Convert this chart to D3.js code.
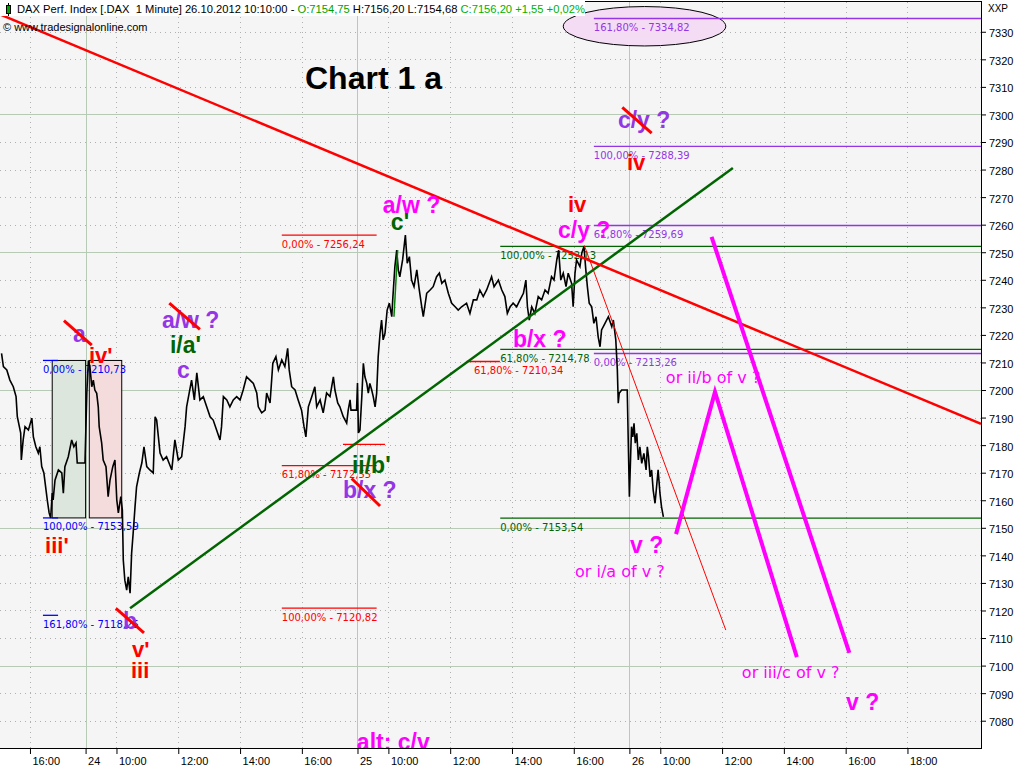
<!DOCTYPE html>
<html><head><meta charset="utf-8">
<script src="https://cdn.jsdelivr.net/npm/d3@7/dist/d3.min.js"></script>
<style>html,body{margin:0;padding:0;background:#fff;overflow:hidden}svg{display:block}</style>
</head><body><svg id="chart" width="1024" height="768"></svg>
<script>
// ---------- DATA ----------
// time unit: trading hours since the 23.10.2012 09:00 open; each session on the chart spans 8.8 h
const SESSION_HOURS = 8.8;
const tickDay   = [23,24,24,24,24,24,25,25,25,25,25,26,26,26,26,26,26];
const tickHour  = [16,9,10,12,14,16,9,10,12,14,16,9,10,12,14,16,18];
const tickLabels= ["16:00","24","10:00","12:00","14:00","16:00","25","10:00","12:00","14:00","16:00","26","10:00","12:00","14:00","16:00","18:00"];
const priceTicks = d3.range(7080, 7331, 10);

// DAX 1-minute close path
const priceT = [
6.08,6.14,6.25,6.35,6.46,6.55,6.59,6.70,6.72,6.78,
6.84,6.95,7.06,7.11,7.19,7.27,7.32,7.38,7.45,7.52,
7.56,7.62,7.67,7.72,7.75,7.81,7.92,8.03,8.08,8.13,
8.24,8.35,8.42,8.49,8.53,8.78,8.84,8.89,8.94,9.00,
9.05,9.10,9.16,9.21,9.24,9.32,9.37,9.46,9.53,9.59,
9.68,9.75,9.81,9.86,9.94,9.99,10.02,10.07,10.13,10.18,
10.24,10.29,10.34,10.40,10.45,10.54,10.62,10.69,10.78,10.88,
10.99,11.05,11.10,11.21,11.31,11.42,11.59,11.69,11.80,11.91,
12.02,12.07,12.23,12.32,12.40,12.50,12.61,12.72,12.83,12.93,
13.04,13.15,13.20,13.26,13.37,13.47,13.58,13.69,13.80,13.90,
14.01,14.12,14.23,14.34,14.39,14.50,14.61,14.66,14.77,14.86,
14.96,15.04,15.15,15.25,15.34,15.39,15.47,15.58,15.68,15.79,
15.87,15.93,16.01,16.12,16.22,16.28,16.39,16.49,16.60,16.71,
16.82,16.87,16.96,17.03,17.14,17.25,17.30,17.36,17.39,17.57,
17.60,17.63,17.68,17.74,17.79,17.84,17.90,17.95,18.00,18.06,
18.11,18.17,18.22,18.27,18.33,18.38,18.43,18.49,18.56,18.63,
18.71,18.74,18.81,18.87,18.92,18.97,19.06,19.15,19.21,19.28,
19.35,19.43,19.52,19.60,19.68,19.73,19.84,19.95,20.05,20.16,
20.25,20.33,20.43,20.54,20.65,20.76,20.86,20.97,21.13,21.24,
21.35,21.46,21.56,21.67,21.78,21.94,22.02,22.16,22.27,22.37,
22.45,22.54,22.64,22.75,22.86,22.97,23.05,23.10,23.16,23.24,
23.34,23.45,23.56,23.67,23.77,23.88,23.96,24.05,24.11,24.18,
24.26,24.35,24.42,24.53,24.58,24.64,24.69,24.80,24.86,24.93,
24.99,25.04,25.10,25.18,25.25,25.32,25.39,25.45,25.50,25.61,
25.72,25.83,25.88,25.96,26.01,26.04,26.07,26.15,26.33,26.40,
26.42,26.44,26.47,26.51,26.55,26.59,26.64,26.69,26.74,26.80,
26.87,26.94,26.98,27.02,27.07,27.12,27.17,27.23,27.28,27.33,
27.39,27.44,27.50];
const priceV = [
7213.3,7208.5,7207.3,7203.6,7201.2,7197.6,7190.3,7184.4,7174.6,7181.9,
7186.7,7185.5,7189.8,7183.0,7179.4,7177.1,7179.4,7172.2,7169.9,7163.7,
7160.1,7155.4,7153.6,7162.6,7160.1,7167.3,7171.0,7169.9,7162.6,7172.2,
7175.8,7181.9,7179.4,7180.8,7173.5,7173.5,7198.9,7210.7,7208.5,7201.2,
7203.6,7200.0,7198.8,7193.9,7186.7,7180.8,7174.6,7172.2,7161.3,7167.3,
7172.2,7174.6,7160.1,7155.4,7161.3,7156.4,7138.3,7131.0,7127.4,7132.2,
7126.3,7140.8,7148.1,7157.6,7164.9,7169.9,7173.5,7179.4,7172.2,7171.0,
7169.9,7190.3,7189.1,7177.1,7174.6,7175.8,7171.0,7181.9,7174.6,7175.8,
7186.7,7193.9,7203.6,7196.4,7206.2,7196.4,7197.6,7193.9,7190.3,7189.1,
7185.5,7181.9,7186.7,7197.6,7196.4,7193.9,7196.4,7197.6,7196.4,7200.0,
7204.8,7203.6,7202.4,7198.9,7193.9,7191.7,7192.7,7198.9,7195.3,7209.7,
7212.1,7207.3,7210.9,7208.5,7215.1,7207.3,7201.2,7200.0,7196.4,7192.7,
7186.7,7183.0,7193.9,7197.6,7201.2,7193.9,7196.4,7191.7,7198.9,7197.6,
7204.8,7200.0,7195.3,7193.9,7190.3,7188.0,7192.7,7196.4,7192.7,7192.7,
7202.5,7184.4,7185.5,7197.6,7209.7,7204.8,7202.5,7198.9,7202.4,7200.0,
7197.6,7193.9,7198.8,7212.1,7220.6,7225.4,7218.2,7220.6,7229.0,7231.5,
7226.6,7232.7,7244.8,7250.8,7243.6,7241.1,7247.2,7256.2,7246.0,7248.4,
7239.9,7237.5,7243.6,7236.3,7230.2,7226.6,7235.1,7236.3,7237.5,7241.1,
7242.4,7238.7,7239.9,7235.1,7231.5,7230.2,7229.0,7230.2,7231.5,7227.8,
7232.7,7232.7,7236.3,7233.9,7236.3,7241.1,7237.5,7239.9,7236.3,7233.9,
7227.8,7230.2,7231.5,7230.2,7232.7,7235.1,7239.9,7230.2,7225.4,7230.2,
7227.8,7233.9,7232.7,7236.3,7235.1,7241.1,7239.9,7247.2,7250.8,7239.9,
7242.4,7237.5,7242.4,7238.7,7230.2,7242.4,7247.2,7244.8,7249.7,7252.1,
7243.6,7237.5,7231.5,7230.2,7224.2,7226.6,7219.3,7215.7,7221.8,7224.2,
7226.6,7223.0,7225.4,7218.2,7207.3,7195.2,7198.8,7200.0,7200.0,7161.3,
7168.5,7175.8,7186.7,7183.0,7187.9,7180.7,7184.3,7174.6,7179.4,7173.4,
7177.0,7171.0,7179.4,7175.8,7168.5,7171.0,7163.7,7158.9,7164.9,7171.0,
7162.5,7157.6,7154.0];

// Fibonacci levels
const blueFibSpan = [7.42, 7.91];
const blueFibLevels = [7210.73, 7153.59, 7118.25];
const blueFibLabels = ["0,00% - 7210,73", "100,00% - 7153,59", "161,80% - 7118,25"];
const fibBoxSpans = [[7.72, 8.80], [8.92, 9.97]];
const redFibSpan = [15.15, 18.22];
const redFibLevels = [7256.24, 7172.55, 7120.82];
const redFibLabels = ["0,00% - 7256,24", "61,80% - 7172,55", "100,00% - 7120,82"];
const redFib2Span = [21.13, 22.21];
const redFib2Level = 7210.34;
const redFib2Label = "61,80% - 7210,34";
const redFib2LabelT = 21.37;
const redMarkSpan = [17.13, 18.49];
const redMarkLevel = 7180.3;
const greenFibSpan = [22.22, 37.78];
const greenFibLevels = [7252.13, 7214.78, 7153.54];
const greenFibLabels = ["100,00% - 7252,13", "61,80% - 7214,78", "0,00% - 7153,54"];
const purpleFibSpan = [25.25, 37.78];
const purpleFibLevels = [7334.82, 7288.39, 7259.69, 7213.26];
const purpleFibLabels = ["161,80% - 7334,82", "100,00% - 7288,39", "61,80% - 7259,69", "0,00% - 7213,26"];
const targetEllipse = [26.89, 7332.0, 2.63, 7.15]; // centre t, centre price, half-width (h), half-height (pts)

// trend lines and projections [t, price]
const redTrend = [[6.03, 7336.3], [37.78, 7187.7]];
const greenTrend = [[10.24, 7120.8], [29.75, 7280.6]];
const redThinTrend = [[24.94, 7252.5], [29.52, 7112.9]];
const greenWaveSeg = [[18.78, 7226.6], [18.90, 7250.8]];
const magentaPath1 = [[27.91, 7147.7], [29.17, 7199.3], [31.82, 7103.1]];
const magentaPath2 = [[29.06, 7255.6], [33.52, 7104.6]];
const crossOuts = [[8.10,7225.2,9.00,7216.3],[11.51,7231.5,12.50,7222.0],[17.41,7167.9,18.33,7157.9],[9.78,7120.8,10.69,7111.9],[26.17,7302.6,27.12,7293.2]];

// wave labels [text, t, price(baseline)]
const purpleWave = [["a",8.39,7217.4],["a/w ?",11.27,7222.5],["c",11.76,7204.4],["b/x ?",17.13,7160.8],["b",10.01,7113.2],["c/y ?",26.03,7295.1]];
const magentaWave = [["a/w ?",18.42,7264.3],["c/y ?",24.09,7255.2],["b/x ?",22.63,7215.6],["v ?",26.42,7140.8],["v ?",33.41,7083.8],["alt: c/v",17.58,7069.5]];
const magentaNotes = [["or ii/b of v ?",27.58,7202.5],["or i/a of v ?",24.64,7132.1],["or iii/c of v ?",30.04,7095.5]];
const redWave = [["iv'",8.91,7209.8],["iii'",7.49,7140.8],["v'",10.30,7103.1],["iii",10.27,7095.5],["iv",24.41,7264.6],["iv",26.32,7279.9]];
const greenWave = [["i/a'",11.53,7213.4],["c'",18.68,7258.1],["ii/b'",17.42,7169.9]];

// ---------- DRAW ----------
const L = 0, R = 981, T = 2, B = 748;
const tickU = tickDay.map((d, i) => (d - 23) * SESSION_HOURS + (tickHour[i] - 9));
const x = d3.scaleLinear().domain([6.03, 37.78]).range([L, R]);
const y = d3.scaleLinear().domain([7070.1, 7340.8]).range([B, T]);
const svg = d3.select("#chart");
const C = {purple:"#9435e6", magenta:"#ff00ff", red:"#ff0000", green:"#006400", blue:"#0000ff"};
const BOLD = "'Liberation Sans', Arial, sans-serif";

svg.append("rect").attr("width", 1024).attr("height", 768).attr("fill", "#fff");
svg.append("rect").attr("x", L).attr("y", T).attr("width", R - L).attr("height", B - T).attr("fill", "#f5f5f5");
svg.append("defs").append("clipPath").attr("id", "clip").append("rect")
  .attr("x", L).attr("y", T).attr("width", R - L).attr("height", B - T);
const g = svg.append("g").attr("clip-path", "url(#clip)");

// grid
const py = v => Math.round(y(v)) + 0.5;
g.selectAll("line.hg").data(priceTicks).join("line")
  .attr("x1", L).attr("x2", R).attr("y1", py).attr("y2", py)
  .attr("stroke", d => d % 50 === 0 ? "#b6cab6" : "#b0b0b0")
  .attr("stroke-dasharray", d => d % 50 === 0 ? null : "1,4");
g.selectAll("line.vg").data(tickU).join("line")
  .attr("x1", d => Math.round(x(d)) + 0.5).attr("x2", d => Math.round(x(d)) + 0.5)
  .attr("y1", T).attr("y2", B)
  .attr("stroke", (d, i) => tickLabels[i].includes(":") ? "#b0b0b0" : "#b6cab6")
  .attr("stroke-dasharray", (d, i) => tickLabels[i].includes(":") ? "1,4" : null);

// header line 2 (in plot)
svg.append("text").attr("x", 3).attr("y", 31).attr("font-family", BOLD).attr("font-size", 11)
  .text("© www.tradesignalonline.com");

// fib boxes
g.selectAll("rect.box").data(fibBoxSpans).join("rect")
  .attr("x", d => x(d[0])).attr("width", d => x(d[1]) - x(d[0]))
  .attr("y", y(blueFibLevels[0])).attr("height", y(blueFibLevels[1]) - y(blueFibLevels[0]))
  .attr("fill", (d, i) => i === 0 ? "#dce6dc" : "#f5dcdc").attr("stroke", "#000").attr("stroke-width", 1);

// ellipse
g.append("ellipse").attr("cx", x(targetEllipse[0])).attr("cy", y(targetEllipse[1]))
  .attr("rx", x(targetEllipse[0] + targetEllipse[2]) - x(targetEllipse[0]))
  .attr("ry", y(targetEllipse[1] - targetEllipse[3]) - y(targetEllipse[1]))
  .attr("fill", "#f5dcf5").attr("stroke", "#000").attr("stroke-width", 1);

// fib lines + labels
function fib(span, levels, labels, color, labelT) {
  levels.forEach((lv, i) => {
    g.append("line").attr("x1", x(span[0])).attr("x2", x(span[1])).attr("y1", y(lv)).attr("y2", y(lv))
      .attr("stroke", color).attr("stroke-width", 1.3);
    if (labels) g.append("text").attr("x", x(labelT != null ? labelT : span[0])).attr("y", y(lv) + 12.5)
      .attr("font-family", "'DejaVu Sans', Verdana, sans-serif").attr("font-size", 10).attr("fill", color)
      .text(labels[i]);
  });
}
fib(blueFibSpan, blueFibLevels, blueFibLabels, C.blue);
fib(redFibSpan, redFibLevels, redFibLabels, C.red);
fib(redFib2Span, [redFib2Level], [redFib2Label], C.red, redFib2LabelT);
fib(redMarkSpan, [redMarkLevel], null, C.red);
fib(greenFibSpan, greenFibLevels, greenFibLabels, C.green);
fib(purpleFibSpan, purpleFibLevels, purpleFibLabels, C.purple);

// price
const pts = priceT.map((t, i) => [t, priceV[i]]);
const line = d3.line().x(d => x(d[0])).y(d => y(d[1]));
g.append("path").attr("d", line(pts)).attr("fill", "none").attr("stroke", "#000").attr("stroke-width", 1.6)
  .attr("stroke-linejoin", "miter");

// trend lines
g.append("path").attr("d", line(greenWaveSeg)).attr("stroke", "#008000").attr("stroke-width", 1.5).attr("fill", "none");
g.append("path").attr("d", line(redThinTrend)).attr("stroke", C.red).attr("stroke-width", 1).attr("fill", "none");
g.append("path").attr("d", line(greenTrend)).attr("stroke", C.green).attr("stroke-width", 2.5).attr("fill", "none");
g.append("path").attr("d", line(redTrend)).attr("stroke", C.red).attr("stroke-width", 2.5).attr("fill", "none");
[magentaPath1, magentaPath2].forEach(p => g.append("path").attr("d", line(p)).attr("stroke", C.magenta)
  .attr("stroke-width", 4).attr("fill", "none").attr("stroke-linejoin", "miter"));

// wave labels
function labels(arr, color, size, weight, family) {
  g.selectAll(null).data(arr).join("text")
    .attr("x", d => x(d[1])).attr("y", d => y(d[2]))
    .attr("font-family", family || BOLD).attr("font-size", size).attr("font-weight", weight)
    .attr("fill", color).text(d => d[0]);
}
labels(purpleWave, C.purple, 23, "bold");
labels(magentaWave, C.magenta, 23, "bold");
labels(greenWave, C.green, 23, "bold");
labels(redWave, C.red, 22, "bold");
labels(magentaNotes, C.magenta, 16, "normal", "'DejaVu Sans', Verdana, sans-serif");

// cross-outs
g.selectAll("line.x").data(crossOuts).join("line")
  .attr("x1", d => x(d[0])).attr("y1", d => y(d[1])).attr("x2", d => x(d[2])).attr("y2", d => y(d[3]))
  .attr("stroke", C.red).attr("stroke-width", 3);

// title
g.append("text").attr("x", 305).attr("y", 89).attr("font-family", BOLD).attr("font-size", 32)
  .attr("font-weight", "bold").attr("fill", "#000").text("Chart 1 a");

// axes
const ay = svg.append("g").attr("transform", `translate(${R},0)`)
  .call(d3.axisRight(y).tickValues(priceTicks).tickSize(5).tickSizeOuter(0).tickFormat(d3.format("d")));
ay.select(".domain").remove();
ay.selectAll("text").attr("font-family", BOLD).attr("font-size", 11).attr("dy", "0.45em");
const ax = svg.append("g").attr("transform", `translate(0,${B})`)
  .call(d3.axisBottom(x).tickValues(tickU).tickSize(6).tickSizeOuter(0).tickFormat((d, i) => tickLabels[i]));
ax.select(".domain").remove();
ax.selectAll("text").attr("font-family", BOLD).attr("font-size", 11).attr("text-anchor", "start").attr("dx", 2);
svg.append("text").attr("x", 988).attr("y", 12).attr("font-family", BOLD).attr("font-size", 10).text("XXP");

// frame
svg.append("line").attr("x1", R + 0.5).attr("x2", R + 0.5).attr("y1", 1).attr("y2", B + 1).attr("stroke", "#000");
svg.append("line").attr("x1", 0).attr("x2", R + 1).attr("y1", B + 0.5).attr("y2", B + 0.5).attr("stroke", "#000");
svg.append("line").attr("x1", 0).attr("x2", R + 1).attr("y1", 1.5).attr("y2", 1.5).attr("stroke", "#000");

// header line 1
svg.append("rect").attr("x", 0).attr("y", 0).attr("width", 585).attr("height", 16).attr("fill", "#fff");
svg.append("line").attr("x1", 8.5).attr("x2", 8.5).attr("y1", 3).attr("y2", 16).attr("stroke", "#000");
svg.append("rect").attr("x", 6.5).attr("y", 5.5).attr("width", 4).attr("height", 8).attr("fill", "#00a000").attr("stroke", "#000");
const hdr = svg.append("text").attr("x", 17).attr("y", 13).attr("font-family", BOLD).attr("font-size", 11.2);
hdr.append("tspan").text("DAX Perf. Index [.DAX  1 Minute] 26.10.2012 10:10:00 - ").attr("xml:space", "preserve");
hdr.append("tspan").attr("fill", "#00a000").text("O:7154,75 ");
hdr.append("tspan").text("H:7156,20 L:7154,68 ");
hdr.append("tspan").attr("fill", "#00b000").text("C:7156,20 +1,55 +0,02%");
</script></body></html>
